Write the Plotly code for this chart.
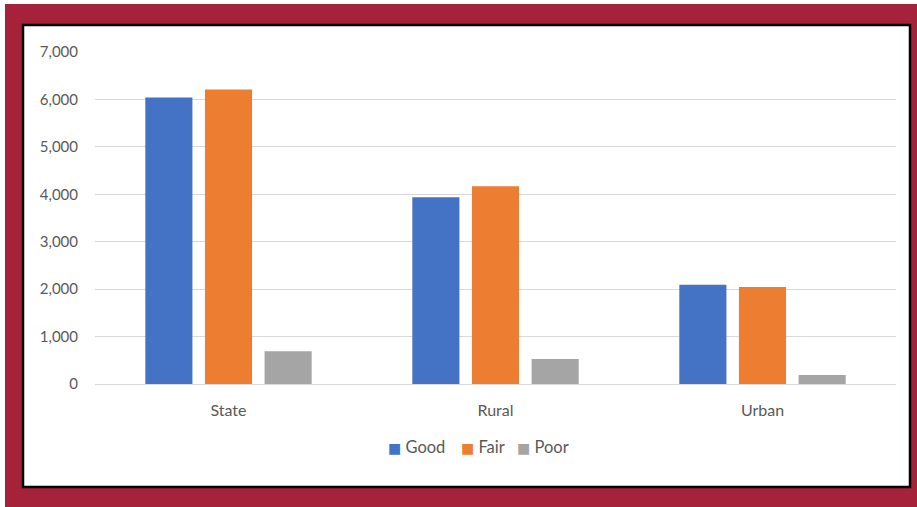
import plotly.graph_objects as go

categories = ["State", "Rural", "Urban"]
good = [6040, 3940, 2090]
fair = [6210, 4170, 2045]
poor = [690, 525, 190]
series_names = ["Good", "Fair", "Poor"]
colors = ["#4472C4", "#ED7D31", "#A5A5A5"]

W, H = 917, 507
L, R, T, B = 95, 21, 52, 123
pw, ph = W - L - R, H - T - B

def px_x(x):
    return (x - L) / pw

def px_y(y):
    return (H - B - y) / ph

fig = go.Figure()
for name, vals, c in zip(series_names, [good, fair, poor], colors):
    fig.add_trace(go.Bar(name=name, x=categories, y=vals, showlegend=False,
                         marker=dict(color=c, line=dict(width=0))))

# legend drawn as text annotations (swatch + label)
legend_x = [386, 459, 515]
annotations = []
for name, c, lx in zip(series_names, colors, legend_x):
    annotations.append(dict(
        xref="paper", yref="paper", x=px_x(lx), y=px_y(447),
        xanchor="left", yanchor="middle", showarrow=False,
        text=f"<span style='color:{c};font-size:14px'>■</span> {name}",
        font=dict(size=16.5, color="#595959", family="Lato, DejaVu Sans, sans-serif"),
    ))

fig.update_layout(
    width=W, height=H,
    margin=dict(l=L, r=R, t=T, b=B),
    paper_bgcolor="white", plot_bgcolor="rgba(0,0,0,0)",
    barmode="group", bargap=0.33, bargroupgap=0.21,
    font=dict(family="Lato, Liberation Sans, sans-serif", color="#595959", size=14),
    showlegend=False,
    annotations=annotations,
    shapes=[
        dict(type="rect", xref="paper", yref="paper", layer="below",
             x0=px_x(5), x1=px_x(917), y0=px_y(507), y1=px_y(4),
             fillcolor="#A6213A", line=dict(width=0)),
        dict(type="rect", xref="paper", yref="paper", layer="below",
             x0=px_x(23), x1=px_x(910), y0=px_y(487), y1=px_y(25),
             fillcolor="white", line=dict(color="black", width=2.5)),
    ],
)
fig.update_yaxes(range=[0, 7000], dtick=1000, tickformat=",", showgrid=True,
                 gridcolor="#D9D9D9", gridwidth=1, zeroline=True, zerolinecolor="#D9D9D9",
                 zerolinewidth=1, showline=False, ticks="", ticklabelstandoff=16,
                 tickfont=dict(size=15, color="#595959"))
fig.update_xaxes(showgrid=False, showline=False, ticks="", ticklabelstandoff=15,
                 tickfont=dict(size=16, color="#595959"))

fig.write_html("out.html", config={"displayModeBar": False},
               post_script="document.body.style.margin='0px';")
